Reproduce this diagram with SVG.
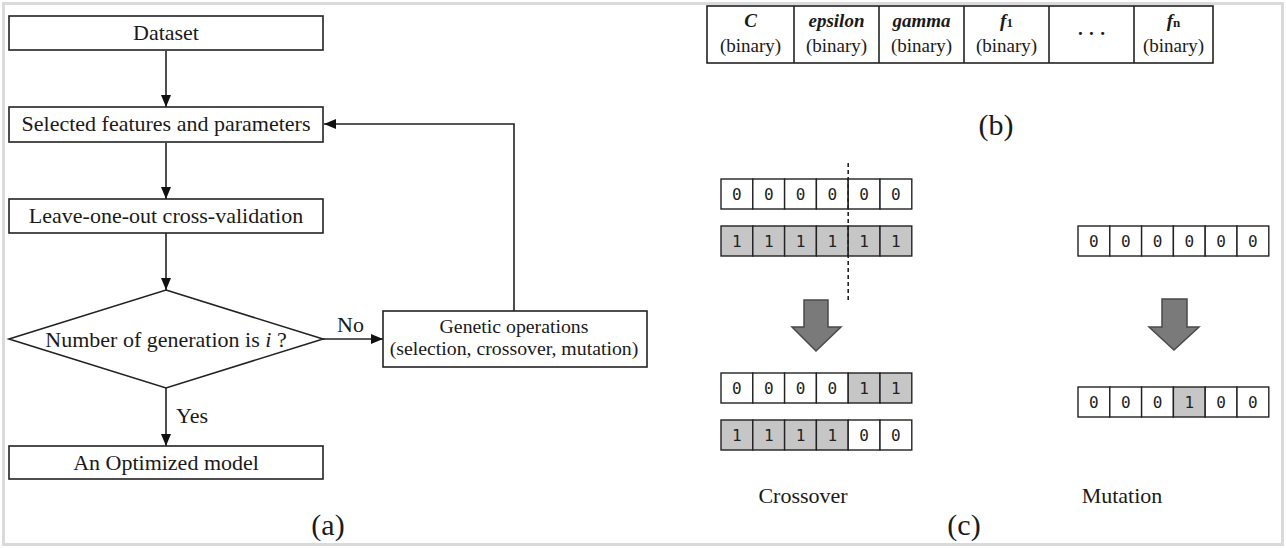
<svg xmlns="http://www.w3.org/2000/svg" width="1286" height="548" viewBox="0 0 1286 548">
<style>
.bx{fill:#fff;stroke:#222;stroke-width:1.6}
.ln{fill:none;stroke:#222;stroke-width:1.6}
.t{font-family:"Liberation Serif","Times New Roman",serif;fill:#1a1a1a}
.f{font-size:22px}
.f2{font-size:19.8px}
.tb{font-size:19px}
.bi{font-weight:bold;font-style:italic}
.cell{fill:#fff;stroke:#222;stroke-width:1.4}
.g{fill:#c6c6c6}
.d{font-family:"DejaVu Sans Mono","Liberation Mono",monospace;font-size:16px;fill:#222;text-anchor:middle}
.arr{fill:#7a7a7a;stroke:#4a4a4a;stroke-width:1.5;stroke-linejoin:miter}
</style>
<defs>
<marker id="ah" viewBox="0 0 12 10" refX="12" refY="5" markerWidth="12" markerHeight="10" markerUnits="userSpaceOnUse" orient="auto">
<path d="M0,0 L12,5 L0,10 z" fill="#111"/>
</marker>
</defs>
<rect x="0" y="0" width="1286" height="548" fill="#fff"/>
<rect x="3.5" y="3.5" width="1279" height="541" fill="none" stroke="#dadada" stroke-width="3"/>

<g id="connectors">
<line class="ln" x1="166" y1="51" x2="166" y2="107" marker-end="url(#ah)"/>
<line class="ln" x1="166" y1="143" x2="166" y2="199" marker-end="url(#ah)"/>
<line class="ln" x1="166" y1="233" x2="166" y2="290" marker-end="url(#ah)"/>
<line class="ln" x1="323" y1="339" x2="383" y2="339" marker-end="url(#ah)"/>
<line class="ln" x1="166" y1="388" x2="166" y2="446" marker-end="url(#ah)"/>
<polyline class="ln" points="514,311 514,124 324,124" marker-end="url(#ah)"/>
<text class="t f" x="337" y="332">No</text>
<text class="t f" x="176" y="423">Yes</text>
</g>

<g id="dataset">
<rect class="bx" x="9" y="16" width="314" height="34"/>
<text class="t f" x="166" y="40" text-anchor="middle">Dataset</text>
</g>
<g id="selected">
<rect class="bx" x="9" y="107" width="314" height="35"/>
<text class="t f" x="166" y="131" text-anchor="middle">Selected features and parameters</text>
</g>
<g id="loocv">
<rect class="bx" x="9" y="199" width="314" height="34"/>
<text class="t f" x="166" y="223" text-anchor="middle">Leave-one-out cross-validation</text>
</g>
<g id="decision">
<polygon class="bx" points="166,290 323,339 166,388 9,339"/>
<text class="t f" x="166" y="347" text-anchor="middle">Number of generation is <tspan font-style="italic">i</tspan> ?</text>
</g>
<g id="genetic">
<rect class="bx" x="383" y="311" width="264" height="56"/>
<text class="t f2" x="514" y="333" text-anchor="middle">Genetic operations</text>
<text class="t f2" x="514" y="355" text-anchor="middle">(selection, crossover, mutation)</text>
</g>
<g id="optimized">
<rect class="bx" x="9" y="446" width="314" height="33"/>
<text class="t f" x="166" y="470" text-anchor="middle">An Optimized model</text>
</g>
<text class="t" x="328" y="535" font-size="30" text-anchor="middle">(a)</text>

<g id="chromosome">
<rect class="bx" x="707" y="6" width="506" height="57"/>
<line class="ln" x1="794" y1="6" x2="794" y2="63"/>
<line class="ln" x1="879" y1="6" x2="879" y2="63"/>
<line class="ln" x1="964" y1="6" x2="964" y2="63"/>
<line class="ln" x1="1049" y1="6" x2="1049" y2="63"/>
<line class="ln" x1="1134" y1="6" x2="1134" y2="63"/>
<g class="t tb" text-anchor="middle">
<text class="bi" x="750.5" y="27">C</text>
<text x="750.5" y="52">(binary)</text>
<text class="bi" x="836.5" y="27">epsilon</text>
<text x="836.5" y="52">(binary)</text>
<text class="bi" x="921.5" y="27">gamma</text>
<text x="921.5" y="52">(binary)</text>
<text class="bi" x="1006.5" y="27">f<tspan font-size="13" font-style="normal">1</tspan></text>
<text x="1006.5" y="52">(binary)</text>
<text x="1091.5" y="40" font-weight="bold">·  ·  ·</text>
<text class="bi" x="1173.5" y="27">f<tspan font-size="13" font-style="normal">n</tspan></text>
<text x="1173.5" y="52">(binary)</text>
</g>
</g>
<text class="t" x="996" y="135" font-size="30" text-anchor="middle">(b)</text>

<g id="crossover">
<g id="cx-row1">
<rect class="cell" x="721" y="179" width="31.8" height="30"/>
<rect class="cell" x="752.8" y="179" width="31.8" height="30"/>
<rect class="cell" x="784.6" y="179" width="31.8" height="30"/>
<rect class="cell" x="816.4" y="179" width="31.8" height="30"/>
<rect class="cell" x="848.2" y="179" width="31.8" height="30"/>
<rect class="cell" x="880" y="179" width="31.8" height="30"/>
<text class="d" x="736.9" y="200">0</text><text class="d" x="768.7" y="200">0</text><text class="d" x="800.5" y="200">0</text><text class="d" x="832.3" y="200">0</text><text class="d" x="864.1" y="200">0</text><text class="d" x="895.9" y="200">0</text>
</g>
<g id="cx-row2">
<rect class="cell g" x="721" y="226" width="31.8" height="30"/>
<rect class="cell g" x="752.8" y="226" width="31.8" height="30"/>
<rect class="cell g" x="784.6" y="226" width="31.8" height="30"/>
<rect class="cell g" x="816.4" y="226" width="31.8" height="30"/>
<rect class="cell g" x="848.2" y="226" width="31.8" height="30"/>
<rect class="cell g" x="880" y="226" width="31.8" height="30"/>
<text class="d" x="736.9" y="247">1</text><text class="d" x="768.7" y="247">1</text><text class="d" x="800.5" y="247">1</text><text class="d" x="832.3" y="247">1</text><text class="d" x="864.1" y="247">1</text><text class="d" x="895.9" y="247">1</text>
</g>
<line x1="848.2" y1="163" x2="848.2" y2="300" stroke="#222" stroke-width="1.6" stroke-dasharray="4,3"/>
<polygon class="arr" points="804,300 828,300 828,327 841,327 816,351 792,327 804,327"/>
<g id="cx-row3">
<rect class="cell" x="721" y="373" width="31.8" height="30"/>
<rect class="cell" x="752.8" y="373" width="31.8" height="30"/>
<rect class="cell" x="784.6" y="373" width="31.8" height="30"/>
<rect class="cell" x="816.4" y="373" width="31.8" height="30"/>
<rect class="cell g" x="848.2" y="373" width="31.8" height="30"/>
<rect class="cell g" x="880" y="373" width="31.8" height="30"/>
<text class="d" x="736.9" y="394">0</text><text class="d" x="768.7" y="394">0</text><text class="d" x="800.5" y="394">0</text><text class="d" x="832.3" y="394">0</text><text class="d" x="864.1" y="394">1</text><text class="d" x="895.9" y="394">1</text>
</g>
<g id="cx-row4">
<rect class="cell g" x="721" y="420" width="31.8" height="30"/>
<rect class="cell g" x="752.8" y="420" width="31.8" height="30"/>
<rect class="cell g" x="784.6" y="420" width="31.8" height="30"/>
<rect class="cell g" x="816.4" y="420" width="31.8" height="30"/>
<rect class="cell" x="848.2" y="420" width="31.8" height="30"/>
<rect class="cell" x="880" y="420" width="31.8" height="30"/>
<text class="d" x="736.9" y="441">1</text><text class="d" x="768.7" y="441">1</text><text class="d" x="800.5" y="441">1</text><text class="d" x="832.3" y="441">1</text><text class="d" x="864.1" y="441">0</text><text class="d" x="895.9" y="441">0</text>
</g>
<text class="t" x="803" y="503" font-size="22" text-anchor="middle">Crossover</text>
</g>

<g id="mutation">
<g id="mu-row1">
<rect class="cell" x="1078" y="226" width="31.8" height="30"/>
<rect class="cell" x="1109.8" y="226" width="31.8" height="30"/>
<rect class="cell" x="1141.6" y="226" width="31.8" height="30"/>
<rect class="cell" x="1173.4" y="226" width="31.8" height="30"/>
<rect class="cell" x="1205.2" y="226" width="31.8" height="30"/>
<rect class="cell" x="1237" y="226" width="31.8" height="30"/>
<text class="d" x="1093.9" y="247">0</text><text class="d" x="1125.7" y="247">0</text><text class="d" x="1157.5" y="247">0</text><text class="d" x="1189.3" y="247">0</text><text class="d" x="1221.1" y="247">0</text><text class="d" x="1252.9" y="247">0</text>
</g>
<polygon class="arr" points="1162,299 1187,299 1187,327 1199,327 1174,350 1149,327 1162,327"/>
<g id="mu-row2">
<rect class="cell" x="1078" y="387" width="31.8" height="30"/>
<rect class="cell" x="1109.8" y="387" width="31.8" height="30"/>
<rect class="cell" x="1141.6" y="387" width="31.8" height="30"/>
<rect class="cell g" x="1173.4" y="387" width="31.8" height="30"/>
<rect class="cell" x="1205.2" y="387" width="31.8" height="30"/>
<rect class="cell" x="1237" y="387" width="31.8" height="30"/>
<text class="d" x="1093.9" y="408">0</text><text class="d" x="1125.7" y="408">0</text><text class="d" x="1157.5" y="408">0</text><text class="d" x="1189.3" y="408">1</text><text class="d" x="1221.1" y="408">0</text><text class="d" x="1252.9" y="408">0</text>
</g>
<text class="t" x="1122" y="503" font-size="22" text-anchor="middle">Mutation</text>
</g>
<text class="t" x="964" y="535" font-size="30" text-anchor="middle">(c)</text>
</svg>
